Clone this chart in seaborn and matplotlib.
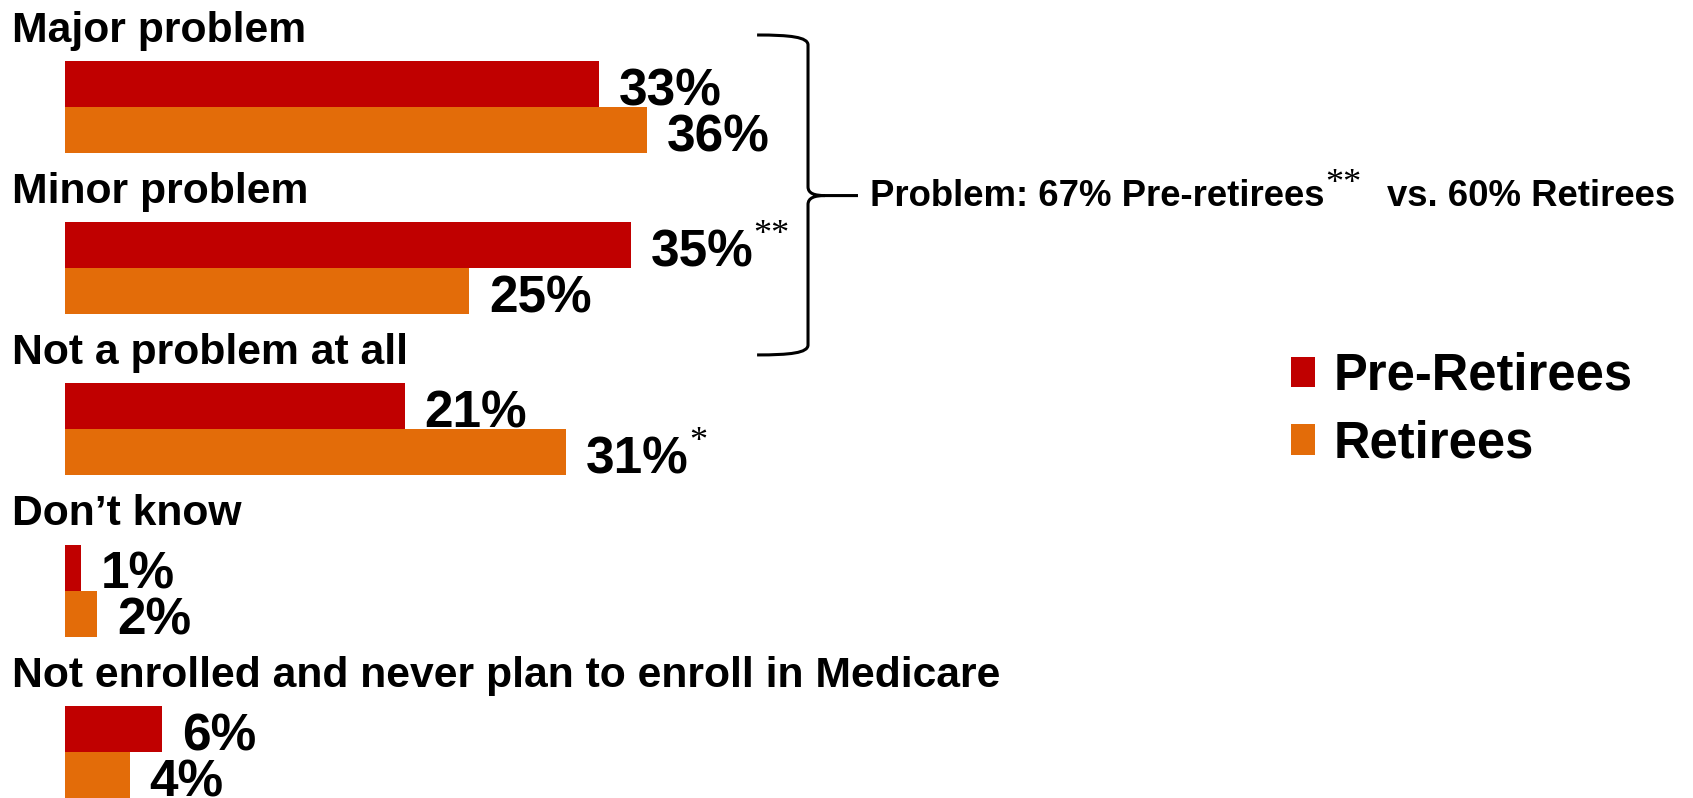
import pandas as pd
import seaborn as sns
import matplotlib.pyplot as plt
from matplotlib.path import Path
from matplotlib.patches import PathPatch

# Survey answers, one row of bars per answer
categories = [
    "Major problem",
    "Minor problem",
    "Not a problem at all",
    "Don\u2019t know",
    "Not enrolled and never plan to enroll in Medicare",
]
groups = ["Pre-Retirees", "Retirees"]
pre_retirees = [33, 35, 21, 1, 6]
retirees = [36, 25, 31, 2, 4]
# significance markers printed after some value labels
pre_marks = ["", "**", "", "", ""]
ret_marks = ["", "", "*", "", ""]
colors = ["#C00000", "#E36C09"]

df = pd.DataFrame({
    "category": categories * 2,
    "group": [groups[0]] * len(categories) + [groups[1]] * len(categories),
    "value": pre_retirees + retirees,
})
marks = [pre_marks, ret_marks]

sns.set_theme(style="white")
plt.rcParams["font.family"] = ["Liberation Sans", "DejaVu Sans"]
plt.rcParams["text.color"] = "black"

fig = plt.figure(figsize=(16.93, 7.98), dpi=100)
ax = fig.add_axes([0, 0, 1, 1])

sns.barplot(
    data=df, y="category", x="value", hue="group",
    order=categories, hue_order=groups, palette=colors,
    orient="h", width=0.57, gap=0, saturation=1, linewidth=0,
    errorbar=None, ax=ax,
)

ax.set_xlim(-4.02, 100.68)
ax.set_ylim(4.286, -0.6615)
ax.axis("off")

# category headings above each pair of bars
for i, cat in enumerate(categories):
    ax.text(-3.28, i - 0.404, cat, fontsize=30.7, fontweight="bold",
            va="baseline", ha="left", color="black")

# value labels to the right of each bar
for k, container in enumerate(ax.containers):
    for j, bar in enumerate(container):
        v = bar.get_width()
        yc = bar.get_y() + bar.get_height() / 2
        t = ax.annotate(f"{v:.0f}%", xy=(v, yc), xytext=(14.4, -15.4),
                        textcoords="offset points", va="baseline", ha="left",
                        fontsize=37, fontweight="bold", color="black")
        if marks[k][j]:
            ax.annotate(marks[k][j], xy=(1, 1), xycoords=t, xytext=(0, 7),
                        textcoords="offset points", va="top", ha="left",
                        fontsize=26, family="Liberation Serif", color="black")

# curly brace grouping the two "problem" answers
verts = [
    (42.80, -0.4445),
    (44.84, -0.4445), (45.95, -0.432), (45.95, -0.3825),
    (45.95, 0.4964),
    (45.95, 0.5397), (46.38, 0.551), (47.0, 0.551),
    (49.04, 0.551),
    (47.0, 0.551),
    (46.38, 0.551), (45.95, 0.5633), (45.95, 0.6067),
    (45.95, 1.477),
    (45.95, 1.527), (44.84, 1.539), (42.80, 1.539),
]
codes = [
    Path.MOVETO,
    Path.CURVE4, Path.CURVE4, Path.CURVE4,
    Path.LINETO,
    Path.CURVE4, Path.CURVE4, Path.CURVE4,
    Path.LINETO,
    Path.MOVETO,
    Path.CURVE4, Path.CURVE4, Path.CURVE4,
    Path.LINETO,
    Path.CURVE4, Path.CURVE4, Path.CURVE4,
]
ax.add_patch(PathPatch(Path(verts, codes), fill=False, lw=2.2,
                       edgecolor="black", capstyle="butt", joinstyle="round"))

# net "problem" summary
net = ax.text(49.81, 0.615, "Problem: 67% Pre-retirees", fontsize=26.3,
              fontweight="bold", va="baseline", ha="left", color="black")
stars = ax.annotate("**", xy=(1, 1), xycoords=net, xytext=(0, 8),
                    textcoords="offset points", va="top", ha="left",
                    fontsize=26, family="Liberation Serif", color="black")
ax.annotate("vs. 60% Retirees", xy=(1, 0), xycoords=net, xytext=(45, 0),
            textcoords="offset points", va="bottom", ha="left",
            fontsize=26.3, fontweight="bold", color="black")

sns.move_legend(
    ax, "upper left", bbox_to_anchor=(0.7626, 0.559),
    bbox_transform=fig.transFigure, frameon=False, title=None,
    prop={"size": 36.5, "weight": "bold"}, labelcolor="black",
    handlelength=0.47, handleheight=0.56, handletextpad=0.36,
    labelspacing=0.365, borderpad=0, borderaxespad=0,
)

fig.savefig("out.png", dpi=100)
